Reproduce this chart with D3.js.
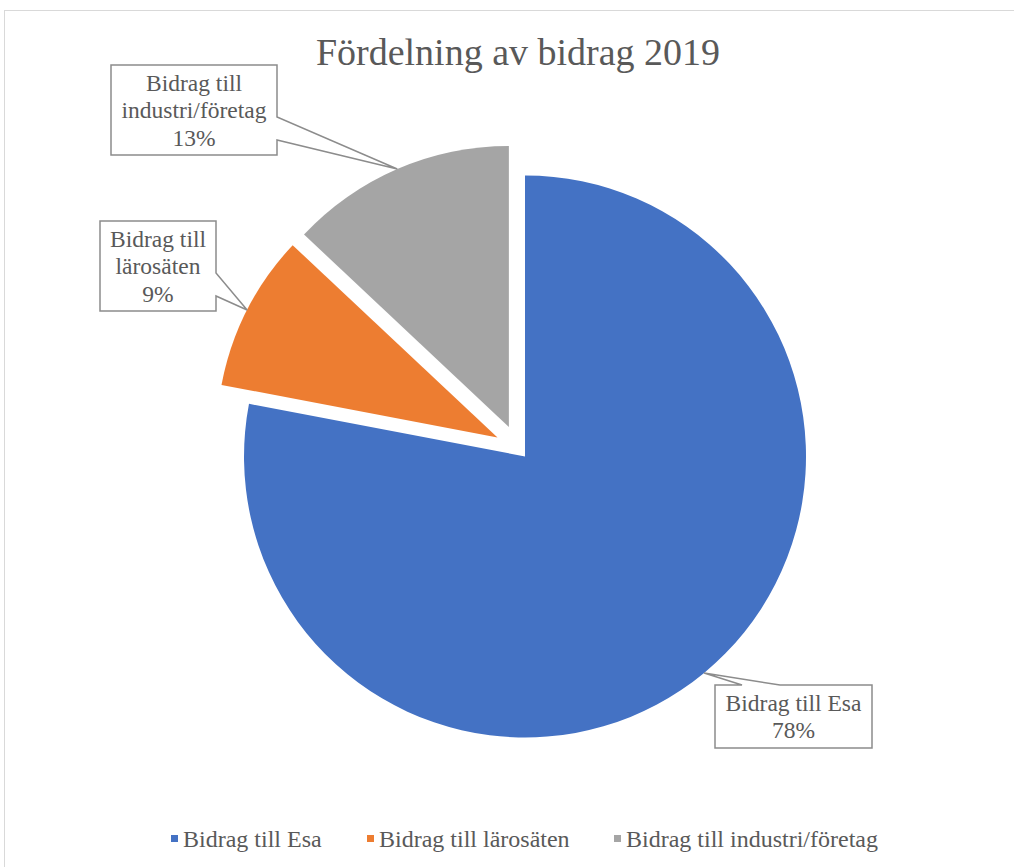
<!DOCTYPE html>
<html>
<head>
<meta charset="utf-8">
<script src="https://cdn.jsdelivr.net/npm/d3@7"></script>
<style>
  body { margin: 0; background: #fff; }
  svg { display: block; font-family: "Liberation Serif", "Times New Roman", serif; }
</style>
</head>
<body>
<script>
// data
let categories = ["Bidrag till Esa", "Bidrag till lärosäten", "Bidrag till industri/företag"];
let values = [78, 9, 13];
let labelLines = [["Bidrag till Esa", "78%"], ["Bidrag till", "lärosäten", "9%"], ["Bidrag till", "industri/företag", "13%"]];
let colors = ["#4472c4", "#ed7d31", "#a5a5a5"];

let width = 1014, height = 867;
let cx = 518, cy = 448, radius = 281;
let explode = [11, 23, 23];

let svg = d3.select("body").append("svg")
    .attr("width", width)
    .attr("height", height);

// chart area border
svg.append("rect")
    .attr("x", 4.5).attr("y", 10.5)
    .attr("width", 1030).attr("height", 880)
    .attr("fill", "#fff")
    .attr("stroke", "#d9d9d9")
    .attr("stroke-width", 1);

svg.append("text")
    .attr("x", 518).attr("y", 65)
    .attr("text-anchor", "middle")
    .attr("font-size", 38)
    .attr("fill", "#595959")
    .text("Fördelning av bidrag 2019");

let pie = d3.pie().sort(null).value(d => d);
let arcs = pie(values);
let arc = d3.arc().innerRadius(0).outerRadius(radius);

function offset(d, i, r) {
    let a = (d.startAngle + d.endAngle) / 2;
    return [Math.sin(a) * r, -Math.cos(a) * r];
}

let g = svg.append("g").attr("transform", "translate(" + cx + "," + cy + ")");

g.selectAll("path.slice")
    .data(arcs)
    .enter().append("path")
    .attr("class", "slice")
    .attr("d", arc)
    .attr("fill", (d, i) => colors[i])
    .attr("transform", (d, i) => {
        let o = offset(d, i, explode[i]);
        return "translate(" + o[0] + "," + o[1] + ")";
    });

// callout boxes: [x0, y0, x1, y1], pointer side and base points
let boxes = [
    { x0: 715, y0: 685, x1: 872, y1: 748, side: "top", p1: 742, p2: 780 },
    { x0: 100, y0: 221, x1: 216, y1: 311, side: "right", p1: 273, p2: 296 },
    { x0: 111, y0: 65, x1: 277, y1: 155, side: "right", p1: 117, p2: 140 }
];

arcs.forEach((d, i) => {
    let o = offset(d, i, explode[i] + radius);
    let tx = cx + o[0], ty = cy + o[1];
    let b = boxes[i];
    let p;
    if (b.side == "top") {
        p = "M" + b.x0 + "," + b.y0 + "H" + b.p1 + "L" + tx + "," + ty + "L" + b.p2 + "," + b.y0 +
            "H" + b.x1 + "V" + b.y1 + "H" + b.x0 + "Z";
    } else {
        p = "M" + b.x0 + "," + b.y0 + "H" + b.x1 + "V" + b.p1 + "L" + tx + "," + ty + "L" + b.x1 + "," + b.p2 +
            "V" + b.y1 + "H" + b.x0 + "Z";
    }
    svg.append("path")
        .attr("d", p)
        .attr("fill", "#fff")
        .attr("stroke", "#8c8c8c")
        .attr("stroke-width", 1.5);

    let lines = labelLines[i];
    let mid = (b.x0 + b.x1) / 2;
    let lh = 27.5;
    let top = (b.y0 + b.y1) / 2 - (lines.length - 1) * lh / 2 + 8;
    svg.append("text")
        .attr("text-anchor", "middle")
        .attr("font-size", 23.5)
        .attr("fill", "#595959")
        .selectAll("tspan")
        .data(lines)
        .enter().append("tspan")
        .attr("x", mid)
        .attr("y", (t, j) => top + j * lh)
        .text(t => t);
});

// legend
let legendX = [171, 367, 614];
let legend = svg.append("g");
categories.forEach((c, i) => {
    legend.append("rect")
        .attr("x", legendX[i]).attr("y", 835)
        .attr("width", 7).attr("height", 7)
        .attr("fill", colors[i]);
    legend.append("text")
        .attr("x", legendX[i] + 12).attr("y", 847)
        .attr("font-size", 24)
        .attr("fill", "#595959")
        .text(c);
});
</script>
</body>
</html>
